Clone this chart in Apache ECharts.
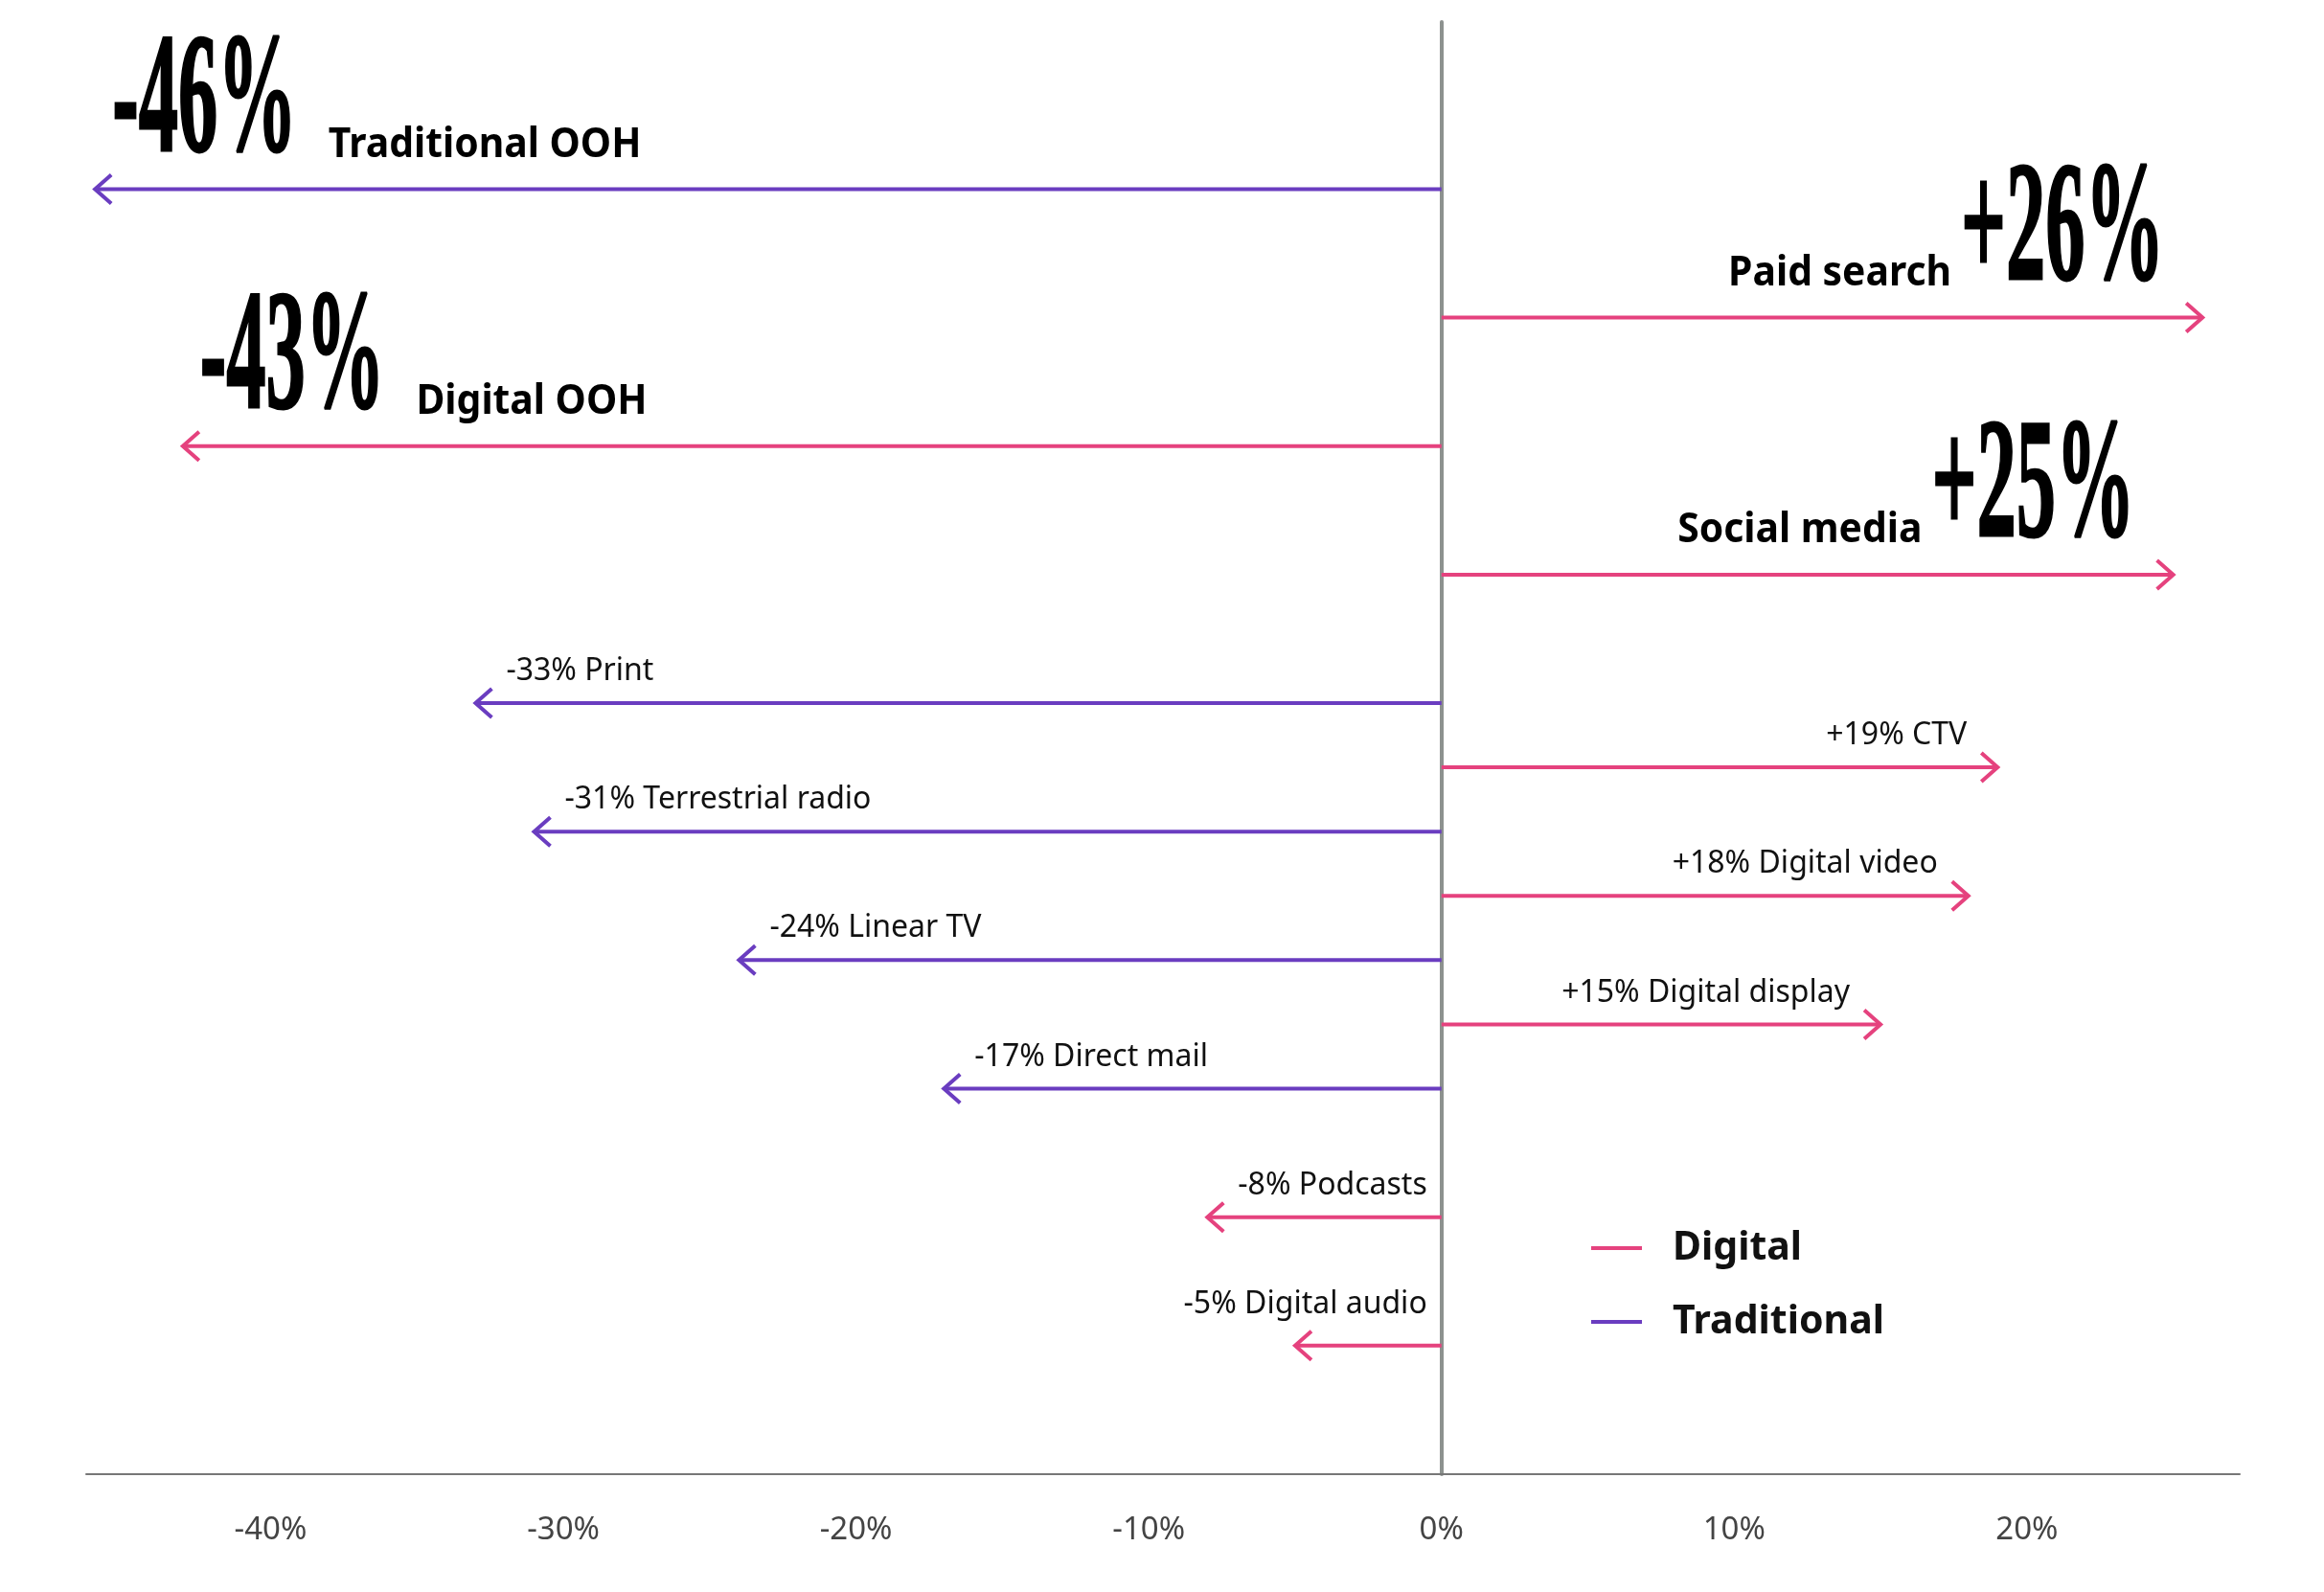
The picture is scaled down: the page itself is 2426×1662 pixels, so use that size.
<!DOCTYPE html>
<html>
<head>
<meta charset="utf-8">
<script src="https://cdn.jsdelivr.net/npm/echarts@6/dist/echarts.min.js"></script>
<style>
  html, body { margin: 0; padding: 0; background: #fff; }
  #chart { width: 2426px; height: 1662px; }
</style>
</head>
<body>
<div id="chart"></div>
<script>
// ad spend change by channel
const categories = ['Traditional OOH', 'Paid search', 'Digital OOH', 'Social media', 'Print', 'CTV',
  'Terrestrial radio', 'Digital video', 'Linear TV', 'Digital display', 'Direct mail', 'Podcasts', 'Digital audio']
const values = [-46, 26, -43, 25, -33, 19, -31, 18, -24, 15, -17, -8, -5]
const groups = ['Traditional', 'Digital', 'Digital', 'Digital', 'Traditional', 'Digital', 'Traditional',
  'Digital', 'Traditional', 'Digital', 'Traditional', 'Digital', 'Digital']
const tickValues = [-40, -30, -20, -10, 0, 10, 20]

// layout: vertical gap (in rows) before each item, and how many rows get headline labels
const rowGap = [0, 2, 2, 2, 2, 1, 1, 1, 1, 1, 1, 2, 2]
const headlineRows = 4

const colors = { Digital: '#e5427e', Traditional: '#6a3dc0' }

const ctx = document.createElement('canvas').getContext('2d')
function textWidth(text, font) {
  ctx.font = font
  return ctx.measureText(text).width
}

const BIG_FONT = '"Liberation Sans Narrow"'
const BIG_SIZE = 96
const BIG_SCALE_X = 0.86
const BIG_SCALE_Y = 1.86
const NAME_SIZE = 43
const NAME_SCALE_X = 0.95
const SMALL_SIZE = 32

function fmt(v) {
  return (v > 0 ? '+' : '') + v + '%'
}

let slot = 0
const rows = values.map((v, i) => {
  slot += rowGap[i]
  return { value: v, slot: slot, idx: i, group: groups[i] }
})

function renderArrow(params, api) {
  const v = api.value(0)
  const s = api.value(1)
  const i = api.value(2)
  const zero = api.coord([0, s])
  const tip = api.coord([v, s])
  const y = tip[1]
  const dir = v < 0 ? -1 : 1
  const color = api.visual('color')
  const children = [
    { type: 'line', shape: { x1: zero[0], y1: y, x2: tip[0], y2: y }, style: { stroke: color, lineWidth: 4 } },
    {
      type: 'polyline',
      shape: { points: [[tip[0] - dir * 17, y - 15], [tip[0], y], [tip[0] - dir * 17, y + 15]] },
      style: { stroke: color, lineWidth: 4, fill: null }
    }
  ]
  const name = categories[i]
  if (i < headlineRows) {
    const num = fmt(v)
    const numW = textWidth(num, 'bold ' + BIG_SIZE + 'px ' + BIG_FONT) * BIG_SCALE_X
    const nameW = textWidth(name, 'bold ' + NAME_SIZE + 'px "Noto Sans"') * NAME_SCALE_X
    let numLeft, nameLeft
    if (v < 0) {
      numLeft = tip[0] + 18
      nameLeft = numLeft + numW + 33
    } else {
      numLeft = tip[0] - 40 - numW
      nameLeft = numLeft - 10 - nameW
    }
    children.push({
      type: 'text', x: numLeft, y: y - 87, scaleX: BIG_SCALE_X, scaleY: BIG_SCALE_Y,
      style: {
        text: num, fontFamily: BIG_FONT, fontWeight: 'bold', fontSize: BIG_SIZE,
        fill: '#000', stroke: '#000', lineWidth: 1.5, align: 'left', verticalAlign: 'middle'
      }
    })
    children.push({
      type: 'text', x: nameLeft, y: y - 46, scaleX: NAME_SCALE_X,
      style: { text: name, fontFamily: 'Noto Sans', fontWeight: 'bold', fontSize: NAME_SIZE, fill: '#000', align: 'left', verticalAlign: 'middle' }
    })
  } else {
    const label = fmt(v) + ' ' + name
    const w = textWidth(label, SMALL_SIZE + 'px "Noto Sans"')
    let x = tip[0] - dir * 32
    let align = v < 0 ? 'left' : 'right'
    let dy = 33
    if (v < 0 && x + w > zero[0] - 15) {
      x = zero[0] - 15
      align = 'right'
      dy = 43
    }
    children.push({
      type: 'text', x: x, y: y - dy,
      style: { text: label, fontFamily: 'Noto Sans', fontSize: SMALL_SIZE, fill: '#111', align: align, verticalAlign: 'middle' }
    })
  }
  return { type: 'group', children: children }
}

function seriesFor(group) {
  return {
    name: group,
    type: 'custom',
    renderItem: renderArrow,
    clip: false,
    itemStyle: { color: colors[group] },
    encode: { x: 0, y: 1 },
    data: rows.filter(r => r.group === group).map(r => [r.value, r.slot, r.idx])
  }
}

const chart = echarts.init(document.getElementById('chart'))
chart.setOption({
  animation: false,
  backgroundColor: '#fff',
  grid: { left: 90, right: 88, top: 23, bottom: 123 },
  legend: {
    orient: 'vertical',
    left: 1656,
    top: 1276,
    icon: 'rect',
    itemWidth: 53,
    itemHeight: 4,
    itemGap: 33,
    data: ['Digital', 'Traditional'],
    textStyle: {
      fontFamily: 'Noto Sans',
      fontWeight: 'bold',
      fontSize: 41,
      lineHeight: 44,
      color: '#111',
      padding: [0, 0, 0, 27]
    }
  },
  xAxis: {
    type: 'value',
    min: -46.3,
    max: 27.27,
    axisLine: { onZero: false, lineStyle: { color: '#777', width: 2 } },
    axisTick: { show: false },
    splitLine: { show: false },
    axisLabel: {
      customValues: tickValues,
      formatter: v => v + '%',
      margin: 42,
      fontFamily: 'Noto Sans',
      fontSize: 33,
      color: '#444'
    }
  },
  yAxis: {
    type: 'value',
    inverse: true,
    min: -2.6,
    max: 20,
    axisLine: { show: true, onZero: true, lineStyle: { color: '#8d928f', width: 4 } },
    axisTick: { show: false },
    axisLabel: { show: false },
    splitLine: { show: false }
  },
  series: [seriesFor('Digital'), seriesFor('Traditional')]
})
</script>
</body>
</html>
